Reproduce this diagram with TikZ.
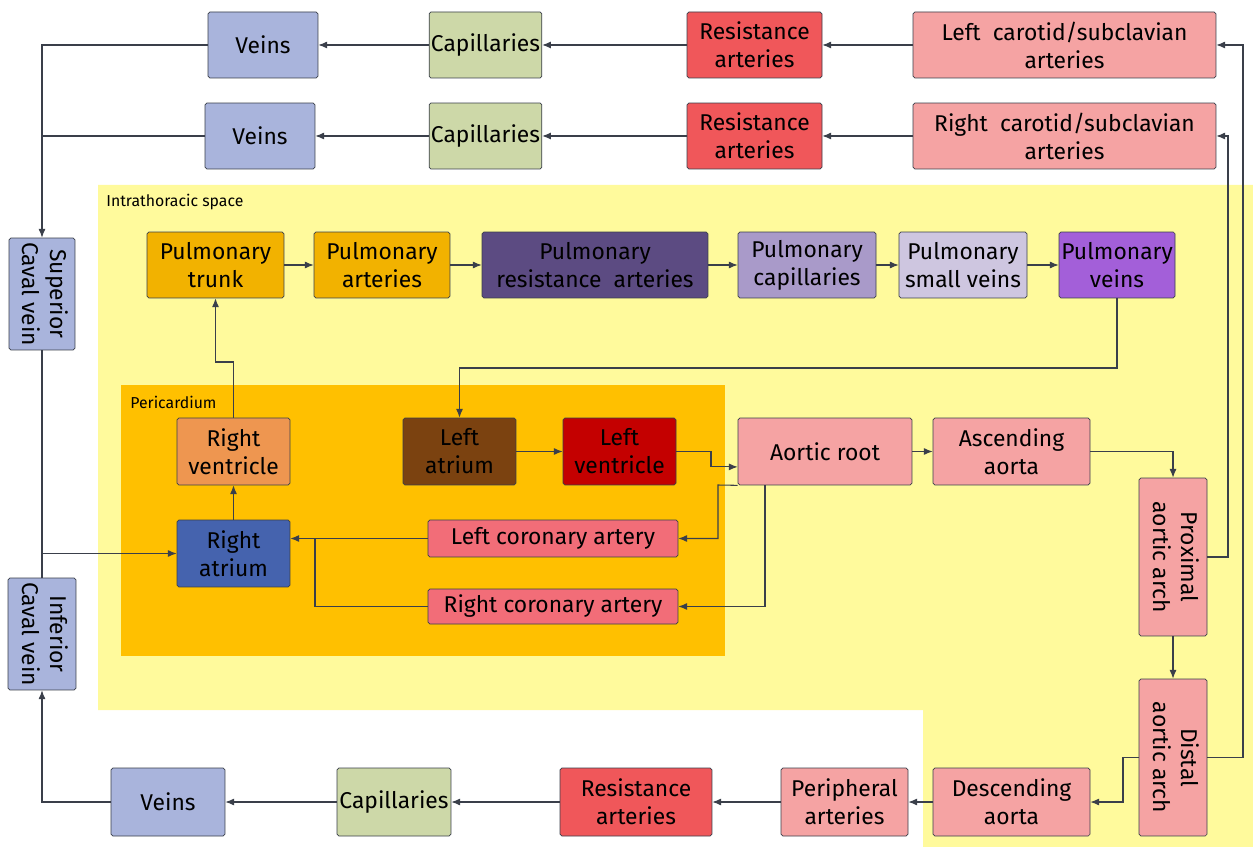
\documentclass[tikz,border=0pt]{standalone}
\usepackage{fontspec}
\setmainfont{Fira Sans}
\usepackage{xcolor}
\usepackage{graphicx}
\usepackage{tikz}
\usetikzlibrary{arrows.meta, positioning}

\definecolor{veincol}{HTML}{A9B4DC}
\definecolor{capcol}{HTML}{CDD8A8}
\definecolor{rescol}{HTML}{F0575A}
\definecolor{artcol}{HTML}{F5A3A3}
\definecolor{pulmgold}{HTML}{F2B200}
\definecolor{pulmres}{HTML}{5C4B82}
\definecolor{pulmcap}{HTML}{A99AC9}
\definecolor{pulmsv}{HTML}{CEC6E0}
\definecolor{pulmvein}{HTML}{A35FD9}
\definecolor{rvcol}{HTML}{EE9650}
\definecolor{lacol}{HTML}{7B4210}
\definecolor{lvcol}{HTML}{C40000}
\definecolor{racol}{HTML}{4563AE}
\definecolor{corcol}{HTML}{F26D78}
\definecolor{thorax}{HTML}{FFFA9C}
\definecolor{pericard}{HTML}{FFC000}
\definecolor{linecol}{HTML}{3A3F4A}

\newcommand{\vlabel}[2]{\rotatebox{-90}{\begin{tabular}{@{}c@{}}#1\\#2\end{tabular}}}

\tikzset{
  box/.style={rectangle, draw=linecol, rounded corners=1pt, align=center,
    font=\fontsize{13}{16}\selectfont, inner sep=1pt, minimum height=1.32cm},
  flow/.style={-{Latex[length=5pt,width=4pt]}, draw=linecol, line width=0.6pt},
  link/.style={draw=linecol, line width=0.6pt},
  area/.style={font=\fontsize{9}{10}\selectfont, anchor=west, inner sep=0pt}
}

\begin{document}
\begin{tikzpicture}[x=0.02cm, y=-0.02cm]
    \useasboundingbox (0,0) rectangle (1253,847);

    % regions
    \fill[thorax] (98,185) -- (1253,185) -- (1253,847) -- (923,847) -- (923,710) -- (98,710) -- cycle;
    \fill[pericard] (121,385) rectangle (725,656);
    \node[area] (thoraxlabel) at (106,202) {Intrathoracic space};
    \node[area] (pericardlabel) at (130,402) {Pericardium};

    % head and arms
    \node[box, fill=veincol, minimum width=2.2cm] (veinsA) at (263,45) {Veins};
    \node[box, fill=capcol, minimum width=2.22cm] (capA) at (485.5,45) {Capillaries};
    \node[box, fill=rescol, minimum width=2.7cm] (resA) at (754.5,45) {Resistance\\arteries};
    \node[box, fill=artcol, minimum width=6.06cm] (lcar) at (1064.5,45) {Left\ \ carotid/subclavian\\arteries};
    \node[box, fill=veincol, minimum width=2.2cm] (veinsB) at (260,136) {Veins};
    \node[box, fill=capcol, minimum width=2.22cm] (capB) at (485.5,136) {Capillaries};
    \node[box, fill=rescol, minimum width=2.7cm] (resB) at (754.5,136) {Resistance\\arteries};
    \node[box, fill=artcol, minimum width=6.06cm] (rcar) at (1064.5,136) {Right\ \ carotid/subclavian\\arteries};

    % caval veins
    \node[box, fill=veincol, minimum width=1.32cm, minimum height=2.24cm] (svc) at (42,294) {\vlabel{Superior}{Caval vein}};
    \node[box, fill=veincol, minimum width=1.36cm, minimum height=2.24cm] (ivc) at (42,634) {\vlabel{Inferior}{Caval vein}};

    % pulmonary circulation
    \node[box, fill=pulmgold, minimum width=2.74cm] (ptrunk) at (215.5,265) {Pulmonary\\trunk};
    \node[box, fill=pulmgold, minimum width=2.72cm] (parteries) at (382,265) {Pulmonary\\arteries};
    \node[box, fill=pulmres, minimum width=4.52cm] (pres) at (595,265) {Pulmonary\\resistance\ \ arteries};
    \node[box, fill=pulmcap, minimum width=2.76cm] (pcap) at (807,265) {Pulmonary\\capillaries};
    \node[box, fill=pulmsv, minimum width=2.56cm] (psv) at (963,265) {Pulmonary\\small veins};
    \node[box, fill=pulmvein, minimum width=2.32cm] (pveins) at (1117,265) {Pulmonary\\veins};

    % heart
    \node[box, fill=rvcol, minimum width=2.26cm, minimum height=1.34cm] (rv) at (233.5,451.5) {Right\\ventricle};
    \node[box, fill=lacol, minimum width=2.26cm, minimum height=1.34cm] (la) at (459.5,451.5) {Left\\atrium};
    \node[box, fill=lvcol, minimum width=2.26cm, minimum height=1.34cm] (lv) at (619.5,451.5) {Left\\ventricle};
    \node[box, fill=racol, minimum width=2.26cm, minimum height=1.34cm] (ra) at (233.5,553.5) {Right\\atrium};
    \node[box, fill=corcol, minimum width=5cm, minimum height=0.74cm] (lca) at (553,538.5) {Left coronary artery};
    \node[box, fill=corcol, minimum width=5cm, minimum height=0.7cm] (rca) at (553,606.5) {Right coronary artery};

    % aorta
    \node[box, fill=artcol, minimum width=3.48cm, minimum height=1.34cm] (aroot) at (825,451.5) {Aortic root};
    \node[box, fill=artcol, minimum width=3.14cm, minimum height=1.34cm] (asc) at (1011.5,451.5) {Ascending\\aorta};
    \node[box, fill=artcol, minimum width=1.36cm, minimum height=3.16cm] (parch) at (1173,557) {\vlabel{Proximal}{aortic arch}};
    \node[box, fill=artcol, minimum width=1.36cm, minimum height=3.14cm] (darch) at (1173,757.5) {\vlabel{Distal}{aortic arch}};
    \node[box, fill=artcol, minimum width=3.14cm, minimum height=1.36cm] (desc) at (1011.5,802) {Descending\\aorta};

    % lower body
    \node[box, fill=artcol, minimum width=2.54cm, minimum height=1.36cm] (periph) at (844.5,802) {Peripheral\\arteries};
    \node[box, fill=rescol, minimum width=3.04cm, minimum height=1.36cm] (resC) at (636,802) {Resistance\\arteries};
    \node[box, fill=capcol, minimum width=2.28cm, minimum height=1.36cm] (capC) at (394,802) {Capillaries};
    \node[box, fill=veincol, minimum width=2.28cm, minimum height=1.36cm] (veinsC) at (168,802) {Veins};

    % bends
    \coordinate (svbend) at (42,45);
    \coordinate (vbbend) at (42,136);
    \coordinate (ivbend) at (42,802);
    \coordinate (rvbend) at (233.5,362);
    \coordinate (pvbend) at (1117,368);
    \coordinate (lvbend) at (711,451.5);
    \coordinate (lcabend) at (718,485);
    \coordinate (rcajoin) at (315,538.5);
    \coordinate (rcbend) at (1228,557);
    \coordinate (lcbend) at (1243,757.5);
    \coordinate (dabend) at (1123,757.5);

    % upper body flow
    \draw[flow] (lcar) -- (resA);
    \draw[flow] (resA) -- (capA);
    \draw[flow] (capA) -- (veinsA);
    \draw[flow] (veinsA.west) -- (svbend) -- (svc.north);
    \draw[flow] (rcar) -- (resB);
    \draw[flow] (resB) -- (capB);
    \draw[flow] (capB) -- (veinsB);
    \draw[link] (veinsB.west) -- (vbbend);

    % into the right heart
    \draw[link] (svc.south) -- (ivc.north);
    \draw[flow] (svc.south |- ra.west) -- (ra.west);
    \draw[flow] (ra) -- (rv);
    \draw[flow] (rv.north) -- (rvbend) -| (ptrunk.south);

    % lungs
    \draw[flow] (ptrunk) -- (parteries);
    \draw[flow] (parteries) -- (pres);
    \draw[flow] (pres) -- (pcap);
    \draw[flow] (pcap) -- (psv);
    \draw[flow] (psv) -- (pveins);
    \draw[flow] (pveins.south) -- (pvbend) -| (la.north);

    % left heart and coronaries
    \draw[flow] (la) -- (lv);
    \draw[flow] (lv.east) -- (lvbend) |- (aroot.190);
    \draw[flow] (aroot.south west) -- (lcabend) |- (lca.east);
    \draw[flow] ([xshift=-1.2cm]aroot.south) |- (rca.east);
    \draw[flow] (lca.west) -- (lca.west -| ra.east);
    \draw[link] (rca.west) -| (rcajoin);

    % aorta
    \draw[flow] (aroot) -- (asc);
    \draw[flow] (asc.east) -| (parch.north);
    \draw[flow] (parch) -- (darch);
    \draw[flow] (parch.east) -- (rcbend) |- (rcar.east);
    \draw[flow] (darch.east) -- (lcbend) |- (lcar.east);
    \draw[flow] (darch.west) -- (dabend) |- (desc.east);

    % lower body flow
    \draw[flow] (desc) -- (periph);
    \draw[flow] (periph) -- (resC);
    \draw[flow] (resC) -- (capC);
    \draw[flow] (capC) -- (veinsC);
    \draw[flow] (veinsC.west) -- (ivbend) -- (ivc.south);

\end{tikzpicture}
\end{document}
